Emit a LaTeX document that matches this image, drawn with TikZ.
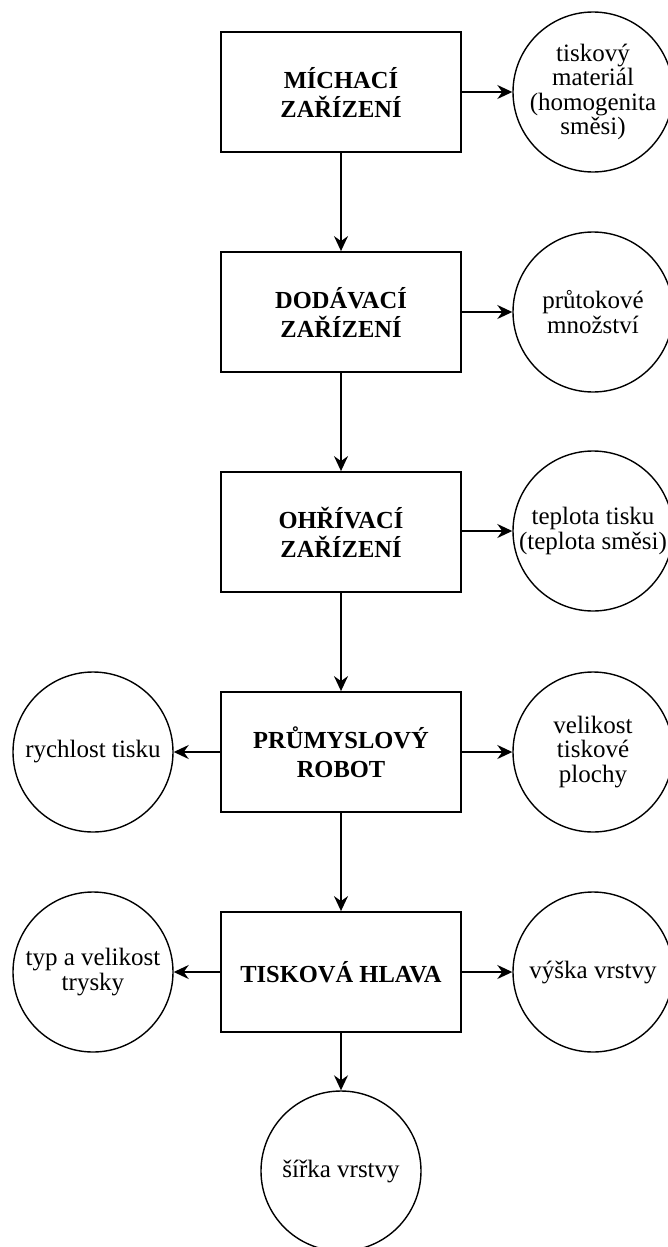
\documentclass[tikz,border=0pt]{standalone}
\usepackage{fontspec}
\setmainfont{Liberation Serif}
\usetikzlibrary{arrows.meta}
\tikzset{
  stagebox/.style={draw, line width=1.8pt, minimum width=240pt, minimum height=120pt, inner sep=0pt, align=center, font=\fontsize{24.5}{29}\selectfont\bfseries},
  param/.style={draw, circle, line width=1.4pt, minimum size=160pt, inner sep=0pt, align=center, font=\fontsize{25}{24.5}\selectfont},
  link/.style={line width=1.8pt, -{Stealth[length=15pt, width=14pt, inset=5pt]}}
}
\begin{document}
\begin{tikzpicture}[x=1pt, y=-1pt]
\useasboundingbox (0,0) rectangle (668,1247);
\clip (0,0) rectangle (668,1247);
% stages
\node[stagebox] (b1) at (341,92) {MÍCHACÍ\\ZAŘÍZENÍ};
\node[stagebox] (b2) at (341,312) {DODÁVACÍ\\ZAŘÍZENÍ};
\node[stagebox] (b3) at (341,532) {OHŘÍVACÍ\\ZAŘÍZENÍ};
\node[stagebox] (b4) at (341,752) {PRŮMYSLOVÝ\\ROBOT};
\node[stagebox] (b5) at (341,972) {TISKOVÁ HLAVA};
% parameters
\node[param] (c1) at (593,92) {tiskový\\materiál\\(homogenita\\směsi)};
\node[param] (c2) at (593,312) {průtokové\\množství};
\node[param] (c3) at (593,531) {teplota tisku\\(teplota směsi)};
\node[param] (c4) at (593,752) {velikost\\tiskové\\plochy};
\node[param] (c5) at (593,972) {výška vrstvy};
\node[param] (l4) at (93,752) {rychlost tisku};
\node[param] (l5) at (93,972) {typ a velikost\\trysky};
\node[param] (d5) at (341,1171) {šířka vrstvy};
% connectors
\draw[link] (b1) -- (b2);
\draw[link] (b2) -- (b3);
\draw[link] (b3) -- (b4);
\draw[link] (b4) -- (b5);
\draw[link] (b5) -- (d5);
\draw[link] (b1) -- (c1);
\draw[link] (b2) -- (c2);
\draw[link] (b3.east |- c3) -- (c3);
\draw[link] (b4) -- (c4);
\draw[link] (b5) -- (c5);
\draw[link] (b4) -- (l4);
\draw[link] (b5) -- (l5);
\end{tikzpicture}
\end{document}
